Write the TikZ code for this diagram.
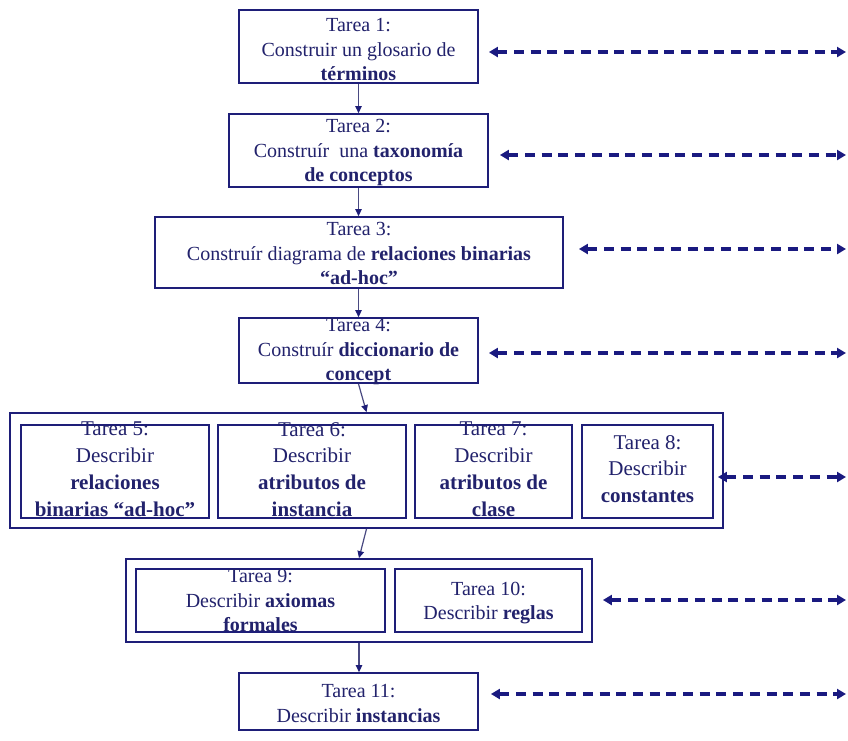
\documentclass[tikz,border=0pt]{standalone}
\usepackage{fontspec}
\setmainfont{Liberation Serif}
\usetikzlibrary{arrows.meta,calc}
\definecolor{navyb}{HTML}{1E1E78}
\definecolor{navyt}{HTML}{22226C}
\definecolor{linkc}{HTML}{4A4A82}
\definecolor{dashc}{HTML}{1A1A80}
\begin{document}
\begin{tikzpicture}[x=1pt,y=-1pt,
  box/.style={draw=navyb, line width=1.8pt, inner sep=0pt, fill=none},
  txt/.style={text=navyt, align=center, inner sep=0pt, anchor=north,
              font=\fontsize{20}{24.5}\selectfont},
  txtb/.style={text=navyt, align=center, inner sep=0pt, anchor=north,
              font=\fontsize{21}{26.7}\selectfont},
  link/.style={draw=linkc, line width=1.2pt,
               -{Triangle[length=7pt,width=6.5pt,fill=navyb,color=navyb]}},
  darr/.style={draw=dashc, line width=3.2pt, dash pattern=on 10pt off 6.7pt,
               {Triangle[length=9pt,width=10pt]}-{Triangle[length=9pt,width=10pt]}}
]
\useasboundingbox (0,0) rectangle (848,740);
\fill[white] (0,0) rectangle (848,740);

% boxes
\node[box, minimum width=239pt, minimum height=73pt] (b1) at (358.5,46.5) {};
\node[box, minimum width=259pt, minimum height=73pt] (b2) at (358.5,150.5) {};
\node[box, minimum width=408pt, minimum height=71pt] (b3) at (359,252.5) {};
\node[box, minimum width=239pt, minimum height=65pt] (b4) at (358.5,350.5) {};
\node[box, minimum width=713pt, minimum height=115pt] (g58) at (366.5,470.5) {};
\node[box, minimum width=188pt, minimum height=93pt] (b5) at (115,471.5) {};
\node[box, minimum width=188pt, minimum height=93pt] (b6) at (312,471.5) {};
\node[box, minimum width=157pt, minimum height=93pt] (b7) at (493.5,471.5) {};
\node[box, minimum width=131pt, minimum height=93pt] (b8) at (647.5,471.5) {};
\node[box, minimum width=466pt, minimum height=83pt] (g910) at (359,600.5) {};
\node[box, minimum width=249pt, minimum height=63pt] (b9) at (260.5,600.5) {};
\node[box, minimum width=187pt, minimum height=63pt] (b10) at (488.5,600.5) {};
\node[box, minimum width=239pt, minimum height=57pt] (b11) at (358.5,701.5) {};

% texts
\node[txt] (t1) at (358.5,18.5) {Tarea 1:\\Construir un glosario de\\\textbf{términos}};
\node[txt] (t2) at (358.5,119.5) {Tarea 2:\\Construír\ \ una \textbf{taxonomía}\\\textbf{de conceptos}};
\node[txt] (t3) at (359,222.5) {Tarea 3:\\Construír diagrama de \textbf{relaciones binarias}\\\textbf{“ad-hoc”}};
\node[txt] (t4) at (358.5,318.5) {Tarea 4:\\Construír \textbf{diccionario de}\\\textbf{concept}};
\node[txtb] (t5) at (115,422) {Tarea 5:\\Describir\\\textbf{relaciones}\\\textbf{binarias “ad-hoc”}};
\node[txtb] (t6) at (312,422) {Tarea 6:\\Describir\\\textbf{atributos de}\\\textbf{instancia}};
\node[txtb] (t7) at (493.5,422) {Tarea 7:\\Describir\\\textbf{atributos de}\\\textbf{clase}};
\node[txtb] (t8) at (647.5,435) {Tarea 8:\\Describir\\\textbf{constantes}};
\node[txt] (t9) at (260.5,569.5) {Tarea 9:\\Describir \textbf{axiomas}\\\textbf{formales}};
\node[txt] (t10) at (488.5,581.5) {Tarea 10:\\Describir \textbf{reglas}};
\node[txt] (t11) at (358.5,684.5) {Tarea 11:\\Describir \textbf{instancias}};

% vertical connectors
\draw[link] (b1.south) -- (b1.south |- b2.north);
\draw[link] (b2.south) -- (b2.south |- b3.north);
\draw[link] (b3.south -| b4.north) -- (b4.north);
\draw[link] (b4.south) -- (g58.north);
\draw[link] (g58.south) -- (g910.north);
\draw[link] (g910.south) -- (g910.south |- b11.north);

% dashed side arrows
\coordinate (e1) at (846,52);
\coordinate (e2) at (846,155);
\coordinate (e3) at (846,249);
\coordinate (e4) at (846,353);
\coordinate (e8) at (846,477);
\coordinate (e10) at (846,600);
\coordinate (e11) at (846,694);
\draw[darr] ($(b1.east|-e1)+(10,0)$) -- (e1);
\draw[darr] ($(b2.east|-e2)+(11,0)$) -- (e2);
\draw[darr] ($(b3.east|-e3)+(15,0)$) -- (e3);
\draw[darr] ($(b4.east|-e4)+(10,0)$) -- (e4);
\draw[darr] ($(b8.east|-e8)+(4,0)$) -- (e8);
\draw[darr] ($(g910.east|-e10)+(10,0)$) -- (e10);
\draw[darr] ($(b11.east|-e11)+(12,0)$) -- (e11);
\end{tikzpicture}
\end{document}
